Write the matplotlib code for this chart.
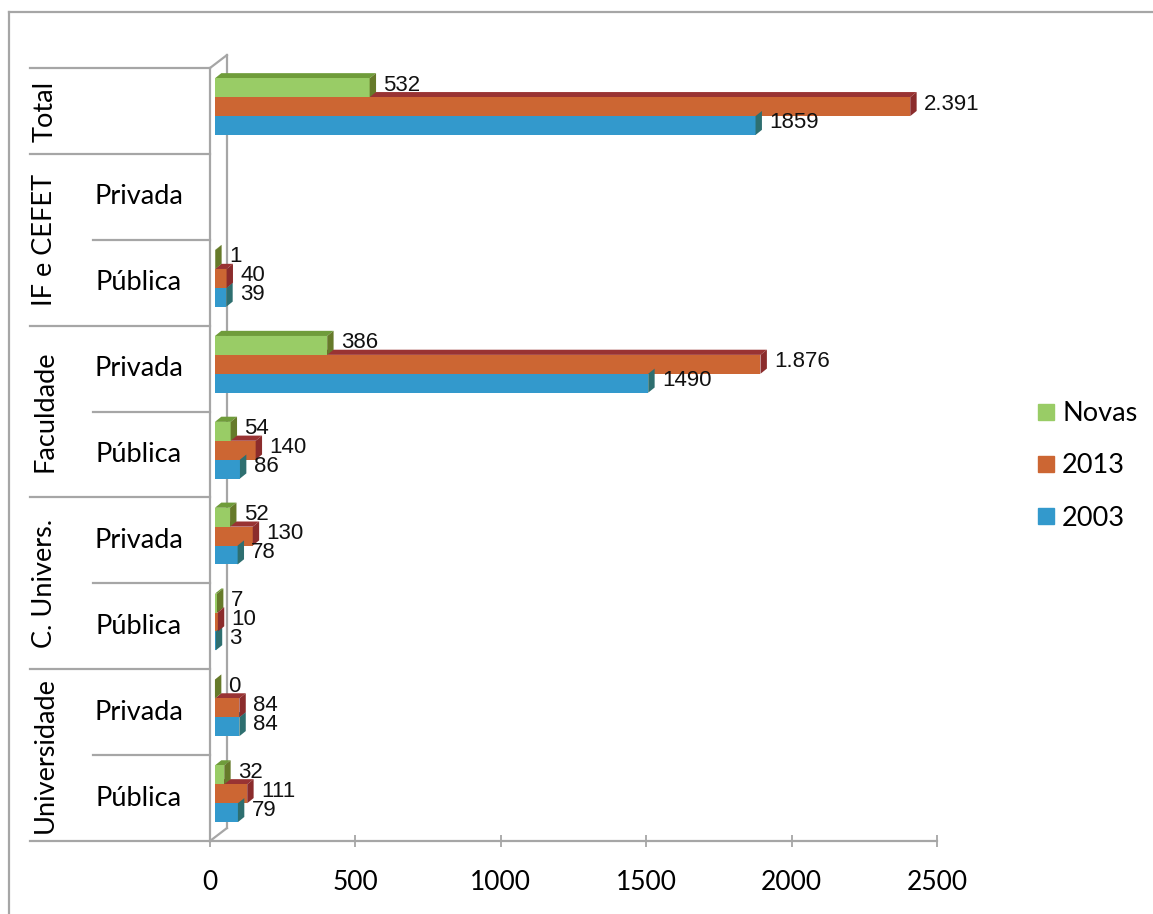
import matplotlib.pyplot as plt
from matplotlib.patches import Polygon
from matplotlib.lines import Line2D
import numpy as np

# rows from bottom to top
groups = ["Universidade", "C. Univers.", "Faculdade", "IF e CEFET", "Total"]
group_rows = [(0, 1), (2, 3), (4, 5), (6, 7), (8, 8)]
subcats = ["Pública", "Privada", "Pública", "Privada", "Pública", "Privada",
           "Pública", "Privada", ""]

v2003 = [79, 84, 3, 78, 86, 1490, 39, np.nan, 1859]
v2013 = [111, 84, 10, 130, 140, 1876, 40, np.nan, 2391]
novas = [32, 0, 7, 52, 54, 386, 1, np.nan, 532]

lab2003 = ["79", "84", "3", "78", "86", "1490", "39", "", "1859"]
lab2013 = ["111", "84", "10", "130", "140", "1.876", "40", "", "2.391"]
labnovas = ["32", "0", "7", "52", "54", "386", "1", "", "532"]

xticks = [0, 500, 1000, 1500, 2000, 2500]

series = [
    # name, values, labels, front, top, side, y offset
    ("2003", v2003, lab2003, "#3399cc", "#2a7fa8", "#2e6f70", -0.17),
    ("2013", v2013, lab2013, "#cc6633", "#993333", "#8b2c2c", 0.05),
    ("Novas", novas, labnovas, "#99cc66", "#6f9c3a", "#667a2a", 0.27),
]

GRAY = "#a6a6a6"
W, H = 1153, 914
fig = plt.figure(figsize=(W / 100, H / 100), dpi=100)
ax = fig.add_axes([210 / W, 73 / H, 727 / W, 773 / H])
ax.set_xlim(0, 2500)
ax.set_ylim(-0.5, 8.5)

bh = 0.22
x0 = 17          # bars sit a bit inside the 3D wall
ddx, ddy = 22, 0.06

for name, vals, labs, front, top, side, off in series:
    for i, v in enumerate(vals):
        if np.isnan(v):
            continue
        yb = i + off - bh / 2
        ax.barh(i + off, v, height=bh, left=x0, color=front, edgecolor="none", zorder=3)
        x1 = x0 + v
        ax.add_patch(Polygon([(x0, yb + bh), (x1, yb + bh), (x1 + ddx, yb + bh + ddy),
                              (x0 + ddx, yb + bh + ddy)], closed=True, fc=top, ec="none", zorder=2.9))
        ax.add_patch(Polygon([(x1, yb), (x1 + ddx, yb + ddy), (x1 + ddx, yb + bh + ddy),
                              (x1, yb + bh)], closed=True, fc=side, ec="none", zorder=3.1))
        ax.text(x1 + ddx + 25, i + off + 0.03, labs[i], va="center", ha="left",
                fontsize=16, family="Liberation Sans", color="#111111", zorder=5)

# 3D back wall
wdx, wdy = 58, 0.15
wall = dict(color=GRAY, lw=1.6, clip_on=False, zorder=1)
ax.plot([0, wdx], [8.5, 8.5 + wdy], **wall)
ax.plot([wdx, wdx], [8.5 + wdy, -0.5 + wdy], **wall)
ax.plot([0, wdx], [-0.5, -0.5 + wdy], **wall)

for s in ["top", "right"]:
    ax.spines[s].set_visible(False)
for s in ["left", "bottom"]:
    ax.spines[s].set_color(GRAY)
    ax.spines[s].set_linewidth(1.6)

ax.set_yticks([])
ax.set_xticks(xticks)
ax.set_xticklabels([str(t) for t in xticks], family="Lato", fontsize=19)
ax.tick_params(axis="x", direction="inout", length=8, width=1.3, color=GRAY, pad=17)

# left table of categories
tr = ax.get_yaxis_transform()
x_outer = (30 - 210) / 727
x_inner = (93 - 210) / 727
for b in [-0.5, 1.5, 3.5, 5.5, 7.5, 8.5]:
    ax.plot([x_outer, 0], [b, b], color=GRAY, lw=1.6, transform=tr, clip_on=False)
for b in [0.5, 2.5, 4.5, 6.5]:
    ax.plot([x_inner, 0], [b, b], color=GRAY, lw=1.6, transform=tr, clip_on=False)

for g, (r0, r1) in zip(groups, group_rows):
    ax.text((45 - 210) / 727, (r0 + r1) / 2, g, rotation=90, ha="center", va="center",
            transform=tr, family="Lato", fontsize=19.5)
for i, s in enumerate(subcats):
    ax.text((139 - 210) / 727, i, s, ha="center", va="center", transform=tr,
            family="Lato", fontsize=19.5)

# legend
handles = [Line2D([], [], marker="s", ls="none", color=c, markersize=11)
           for _, _, _, c, _, _, _ in series[::-1]]
fig.legend(handles, [s[0] for s in series[::-1]], loc="center left",
           bbox_to_anchor=(1012 / W, 1 - 466 / H), frameon=False,
           prop={"family": "Lato", "size": 19.5}, labelspacing=1.0,
           handlelength=0.7, handletextpad=0.25)

# outer frame
fig.add_artist(Line2D([9 / W, 9 / W], [0, 1 - 12 / H], color=GRAY, lw=1.6))
fig.add_artist(Line2D([9 / W, 1], [1 - 12 / H, 1 - 12 / H], color=GRAY, lw=1.6))

fig.savefig("out.png", dpi=100)
